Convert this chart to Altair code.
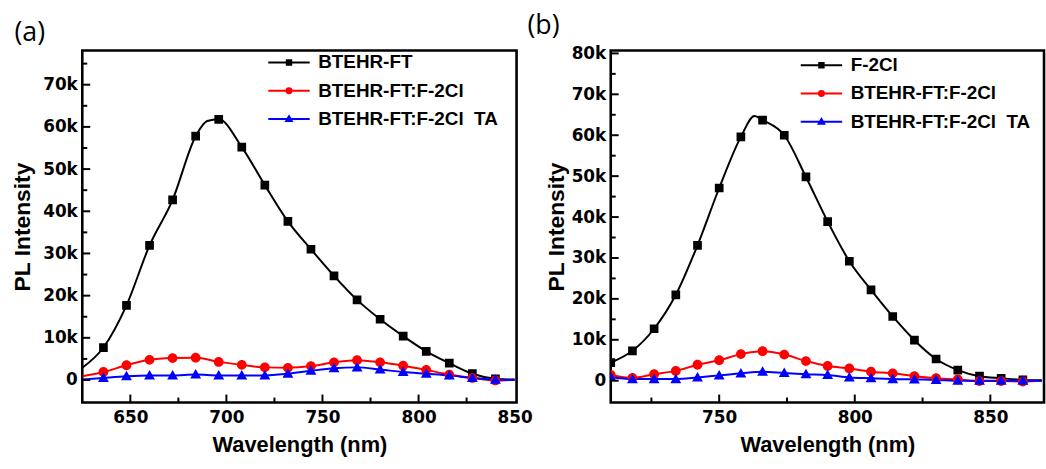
import altair as alt
import pandas as pd

COLORS = ["#000000", "#ff0000", "#0000ff"]
# marker shapes: an (invisible on data points) horizontal line + the marker outline
PATHS = [
    "M-7.5,0H7.5M-0.8,-0.8H0.8V0.8H-0.8Z",
    "M-7.5,0H7.5M-0.9,0A0.9,0.9,0,1,0,0.9,0A0.9,0.9,0,1,0,-0.9,0Z",
    "M-7.5,0H7.5M0,-1L1,0.75H-1Z",
]

# ---------------- panel (a) ----------------
A_NAMES = ["BTEHR-FT", "BTEHR-FT:F-2Cl", "BTEHR-FT:F-2Cl\u00a0\u00a0TA"]
A_MARKERS = [636, 648, 660, 672, 684, 696, 708, 720, 732, 744, 756, 768, 780, 792, 804, 816, 828, 840]
A_BLACK_WL = [625, 636, 648, 660, 672, 684, 690, 696, 708, 720, 732, 744, 756, 768, 780, 792, 804, 816, 828, 840, 850]
A_BLACK = [2900, 7700, 17700, 31900, 42700, 57800, 61400, 61800, 55200, 46200, 37600, 31000, 24700, 19000,
           14400, 10400, 6800, 4000, 1500, 300, 100]
A_RED_WL = [625, 636, 648, 660, 672, 684, 696, 708, 720, 732, 744, 756, 768, 780, 792, 804, 816, 828, 840, 850]
A_RED = [900, 1900, 3500, 4800, 5200, 5300, 4300, 3600, 3000, 2900, 3300, 4200, 4700, 4200, 3400, 2400,
         1300, 500, -100, 100]
A_BLUE_WL = [625, 636, 648, 660, 672, 684, 696, 708, 720, 732, 744, 756, 768, 780, 792, 804, 816, 828, 840, 850]
A_BLUE = [100, 500, 900, 1100, 1100, 1300, 1100, 1100, 1100, 1500, 2200, 2800, 3000, 2500, 1900, 1500,
          1100, 500, 100, 0]

A_XLABELS = [650, 700, 750, 800, 850]
A_XMAJ = [650, 700, 750, 800]
A_XMIN = [675, 725, 775, 825]
A_YLABELS = [0, 10000, 20000, 30000, 40000, 50000, 60000, 70000]
A_YMIN = [5000, 15000, 25000, 35000, 45000, 55000, 65000, 75000]

# ---------------- panel (b) ----------------
B_NAMES = ["F-2Cl", "BTEHR-FT:F-2Cl", "BTEHR-FT:F-2Cl\u00a0\u00a0TA"]
B_MARKERS = [710, 718, 726, 734, 742, 750, 758, 766, 774, 782, 790, 798, 806, 814, 822, 830, 838, 846, 854, 862]
B_BLACK_WL = [710, 718, 726, 734, 742, 750, 758, 763, 766, 774, 782, 790, 798, 806, 814, 822, 830, 838, 846,
              854, 862, 869]
B_BLACK = [4400, 7300, 12700, 21000, 33100, 47100, 59600, 64700, 63700, 60000, 49800, 38900, 29200, 22200,
           15700, 9900, 5300, 2600, 1100, 600, 200, 100]
B_RED_WL = [710, 718, 726, 734, 742, 750, 758, 766, 774, 782, 790, 798, 806, 814, 822, 830, 838, 846, 854, 862, 869]
B_RED = [1400, 700, 1600, 2400, 3900, 5000, 6500, 7200, 6400, 4800, 3600, 3000, 2200, 1800, 1100, 600, 300,
         -100, -100, -200, 0]
B_BLUE_WL = [710, 718, 726, 734, 742, 750, 758, 766, 774, 782, 790, 798, 806, 814, 822, 830, 838, 846, 854, 862, 869]
B_BLUE = [900, 400, 400, 400, 800, 1300, 1800, 2200, 1900, 1600, 1400, 800, 600, 400, 300, 200, 0, 0, 0, 0, 0]

B_XLABELS = [750, 800, 850]
B_XMAJ = [750, 800, 850]
B_XMIN = [725, 775, 825]
B_YLABELS = [0, 10000, 20000, 30000, 40000, 50000, 60000, 70000, 80000]
B_YMIN = [5000, 15000, 25000, 35000, 45000, 55000, 65000, 75000]

FONT = "Liberation Sans"
TICKFONT = "DejaVu Sans"


def make_df(names, wls, vals, markers):
    rows = []
    for name, wl, v in zip(names, wls, vals):
        for w, y in zip(wl, v):
            rows.append({"series": name, "wl": w, "pl": y, "marker": w in markers})
    return pd.DataFrame(rows)


def panel(df, names, xdom, ydom, w, h, xlabels, xmaj, xmin, ylabels, ymin,
          title, tdx, tdy, legx, legy, ylabpad, ytitlepad):
    xs = alt.Scale(domain=xdom, nice=False, zero=False)
    ys = alt.Scale(domain=ydom, nice=False, zero=False)
    xaxis = alt.Axis(values=xlabels, format="d", ticks=False, tickSize=0, domain=False, grid=False,
                     labelFont=TICKFONT, labelFontWeight="bold", labelFontSize=17, labelColor="black",
                     labelPadding=7, labelFlush=False, labelOverlap=False,
                     title="Wavelength (nm)", titleFont=FONT, titleFontWeight="bold",
                     titleFontSize=22, titleColor="black", titlePadding=9)
    yaxis = alt.Axis(values=ylabels, ticks=False, tickSize=0, domain=False, grid=False,
                     labelExpr="datum.value == 0 ? '0' : format(datum.value / 1000, 'd') + 'k'",
                     labelFont=TICKFONT, labelFontWeight="bold", labelFontSize=17, labelColor="black",
                     labelPadding=ylabpad, labelOverlap=False, labelFlush=False,
                     title="PL Intensity", titleFont=FONT, titleFontWeight="bold",
                     titleFontSize=23, titleColor="black", titlePadding=ytitlepad)
    leg = alt.Legend(title=None, orient="none", legendX=legx, legendY=legy, padding=0,
                     labelFont=FONT, labelFontWeight="bold", labelFontSize=19, labelColor="black",
                     symbolSize=31, symbolStrokeWidth=2, labelOffset=20, rowPadding=8.5, labelLimit=0)
    color = alt.Color("series:N", scale=alt.Scale(domain=names, range=COLORS), legend=leg)
    shape = alt.Shape("series:N", scale=alt.Scale(domain=names, range=PATHS), legend=leg)
    X = alt.X("wl:Q", scale=xs, axis=xaxis)
    Y = alt.Y("pl:Q", scale=ys, axis=yaxis)
    base = alt.Chart(df)
    line = base.mark_line(strokeWidth=2, interpolate="monotone", clip=True).encode(
        x=X, y=Y, color=color)
    pts = base.transform_filter("datum.marker").mark_point(
        filled=True, size=120, opacity=1, clip=True).encode(x=X, y=Y, color=color, shape=shape)
    xt = alt.Chart(pd.DataFrame({"wl": xmaj})).mark_rule(color="black", strokeWidth=2).encode(
        x=X, y=alt.value(h), y2=alt.value(h - 8))
    xtm = alt.Chart(pd.DataFrame({"wl": xmin})).mark_rule(color="black", strokeWidth=2).encode(
        x=X, y=alt.value(h), y2=alt.value(h - 5))
    yt = alt.Chart(pd.DataFrame({"pl": ylabels})).mark_rule(color="black", strokeWidth=2).encode(
        y=Y, x=alt.value(0), x2=alt.value(8))
    ytm = alt.Chart(pd.DataFrame({"pl": ymin})).mark_rule(color="black", strokeWidth=2).encode(
        y=Y, x=alt.value(0), x2=alt.value(5))
    return alt.layer(line, pts, xt, xtm, yt, ytm).properties(
        width=w, height=h,
        title=alt.TitleParams(title, anchor="start", frame="group", font="Open Sans", fontSize=27,
                              fontWeight="normal", color="black", dx=tdx, dy=tdy, offset=0),
    )


df_a = make_df(A_NAMES, [A_BLACK_WL, A_RED_WL, A_BLUE_WL], [A_BLACK, A_RED, A_BLUE], A_MARKERS)
df_b = make_df(B_NAMES, [B_BLACK_WL, B_RED_WL, B_BLUE_WL], [B_BLACK, B_RED, B_BLUE], B_MARKERS)

pa = panel(df_a, A_NAMES, [625, 851], [-5330, 78100], 438, 355, A_XLABELS, A_XMAJ, A_XMIN,
           A_YLABELS, A_YMIN, "(a)", -68.5, -3.2, 199, 2.6, 5, 8)
pb = panel(df_b, B_NAMES, [710, 869.8], [-5330, 80700], 437, 355, B_XLABELS, B_XMAJ, B_XMIN,
           B_YLABELS, B_YMIN, "(b)", -84, -4.7, 203, 5.3, 5, 3)

chart = alt.hconcat(pa, pb, spacing=95, bounds="flush").resolve_scale(
    color="independent", shape="independent", x="independent", y="independent"
).configure_view(stroke="black", strokeWidth=2.6).properties(
    padding={"left": 10, "top": 8, "right": 0, "bottom": 0}
)

chart.save("out.html", embed_options={"renderer": "svg", "actions": False})
